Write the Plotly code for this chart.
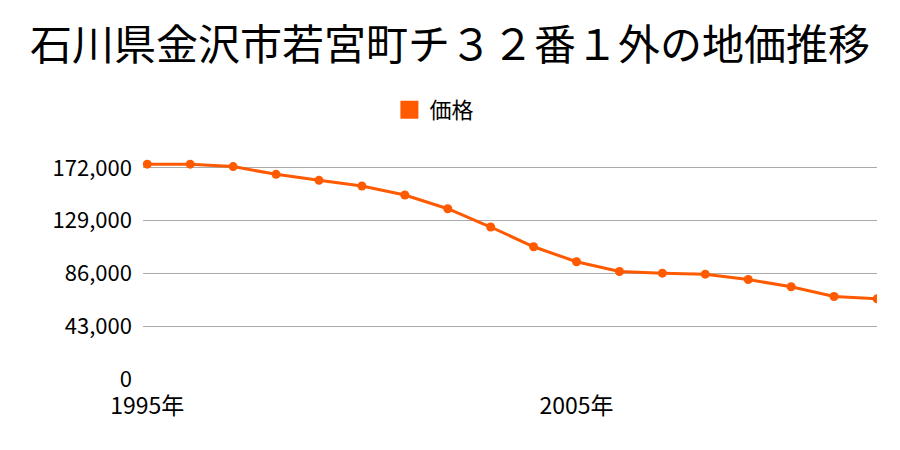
import plotly.graph_objects as go

years = list(range(1995, 2013))
prices = [175000, 175000, 173000, 166700, 161800, 157200, 149900, 138700, 123800,
          107700, 95500, 87600, 86200, 85400, 81000, 75100, 67200, 65300]
y_ticks = [0, 43000, 86000, 129000, 172000]
y_tick_labels = ["0", "43,000", "86,000", "129,000", "172,000"]
x_ticks = [1995, 2005]
x_tick_labels = ["1995年", "2005年"]
series_name = "価格"

font = "Noto Sans CJK JP"
color = "#ff5a00"

fig = go.Figure()
fig.add_trace(go.Scatter(
    x=years, y=prices, mode="lines+markers", name=series_name,
    line=dict(color=color, width=3),
    marker=dict(color=color, size=9),
    showlegend=False,
))
fig.add_trace(go.Scatter(
    x=[None], y=[None], mode="markers", name=series_name,
    marker=dict(color=color, size=16, symbol="square", line=dict(color=color, width=2)),
    showlegend=True,
))

fig.update_layout(
    width=900, height=450,
    margin=dict(l=143, r=23, t=158, b=71),
    paper_bgcolor="white", plot_bgcolor="white",
    font=dict(family=font, size=20, color="#000"),
    title=dict(text="石川県金沢市若宮町チ３２番１外の地価推移", x=0.5, xanchor="center",
               y=0.9, yanchor="middle", font=dict(size=42, family=font)),
    showlegend=True,
    legend=dict(orientation="h", x=0.397, xanchor="center", y=1.217, yanchor="middle",
                font=dict(size=22, family=font), itemsizing="trace"),
    xaxis=dict(range=[1994.9, 2012], tickvals=x_ticks, ticktext=x_tick_labels,
               showgrid=False, zeroline=False, showline=False, ticks="",
               tickfont=dict(size=23), ticklabelstandoff=11),
    yaxis=dict(range=[0, 180000], tickvals=y_ticks, ticktext=y_tick_labels,
               showgrid=True, gridcolor="#aaaaaa", gridwidth=1, zeroline=False,
               showline=False, ticks="", tickfont=dict(size=22), ticklabelstandoff=10),
)

fig.write_html("out.html")
